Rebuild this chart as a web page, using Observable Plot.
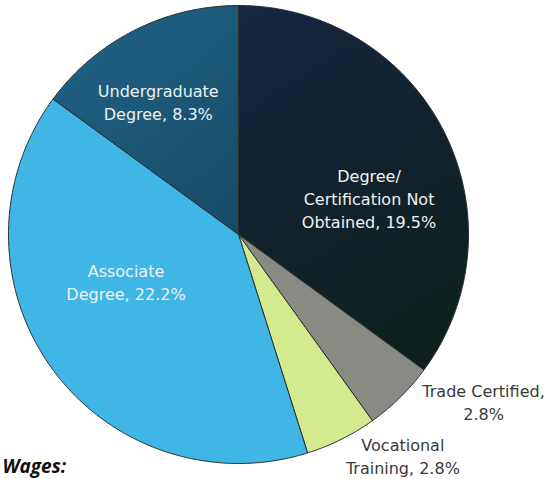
<!DOCTYPE html>
<html>
<head>
<meta charset="utf-8">
<script src="https://cdn.jsdelivr.net/npm/d3@7"></script>
<script src="https://cdn.jsdelivr.net/npm/@observablehq/plot@0.6"></script>
<style>
  html, body { margin: 0; padding: 0; background: #ffffff; }
  #chart svg { display: block; }
</style>
</head>
<body>
<div id="chart"></div>
<script>
// ---- data ----
const categories = [
  "Degree/Certification Not Obtained",
  "Trade Certified",
  "Vocational Training",
  "Associate Degree",
  "Undergraduate Degree"
];
const values = [19.5, 2.8, 2.8, 22.2, 8.3];
const labels = [
  "Degree/\nCertification Not\nObtained, 19.5%",
  "Trade Certified,\n2.8%",
  "Vocational\nTraining, 2.8%",
  "Associate\nDegree, 22.2%",
  "Undergraduate\nDegree, 8.3%"
];
const colors = ["url(#gDark)", "#8a8a85", "#d3eb8e", "#40b6e6", "url(#gTeal)"];
// label layout: angular shift from slice middle (deg) and radius fraction
const labelShift = [11, -11, -10, 13, -4];
const labelRadius = [0.59, 1.29, 1.20, 0.53, 0.68];
const labelInside = [true, false, false, true, true];

// ---- geometry from data ----
const pie = d3.pie().sort(null).value(d => d.value).startAngle(0);
const rows = categories.map((c, i) => ({name: c, value: values[i], label: labels[i], i}));
const arcs = pie(rows);

const slicePts = [];
for (const a of arcs) {
  slicePts.push({name: a.data.name, x: 0, y: 0});
  const n = Math.max(2, Math.ceil((a.endAngle - a.startAngle) / 0.01));
  for (let k = 0; k <= n; k++) {
    const t = a.startAngle + (a.endAngle - a.startAngle) * k / n;
    slicePts.push({name: a.data.name, x: Math.sin(t), y: Math.cos(t)});
  }
  slicePts.push({name: a.data.name, x: 0, y: 0});
}

const labelRows = arcs.map(a => {
  const i = a.data.i;
  const mid = (a.startAngle + a.endAngle) / 2 + labelShift[i] * Math.PI / 180;
  return {
    label: a.data.label,
    x: labelRadius[i] * Math.sin(mid),
    y: labelRadius[i] * Math.cos(mid),
    inside: labelInside[i]
  };
});

const chart = Plot.plot({
  width: 551,
  height: 479,
  margin: 0,
  x: {domain: [-1, 1], range: [8, 468], axis: null},
  y: {domain: [-1, 1], range: [463, 5], axis: null},
  color: {domain: categories, range: colors},
  style: {background: "#ffffff", overflow: "hidden"},
  marks: [
    Plot.line(slicePts, {
      x: "x", y: "y", z: "name", fill: "name",
      stroke: "#2b2f2f", strokeWidth: 1, strokeLinejoin: "round", curve: "linear"
    }),
    Plot.text(labelRows.filter(d => d.inside), {
      x: "x", y: "y", text: "label",
      fill: "#eef2f3", fontSize: 16, lineHeight: 1.45,
      fontFamily: "DejaVu Sans", textAnchor: "middle", lineAnchor: "middle"
    }),
    Plot.text(labelRows.filter(d => !d.inside), {
      x: "x", y: "y", text: "label",
      fill: "#3a3a3a", fontSize: 16, lineHeight: 1.45,
      fontFamily: "DejaVu Sans", textAnchor: "middle", lineAnchor: "middle"
    }),
    Plot.text(["Wages:"], {
      frameAnchor: "bottom-left", dx: 2, dy: -7,
      fill: "#111", fontSize: 19, fontWeight: "bold", fontStyle: "italic",
      fontFamily: "Open Sans", textAnchor: "start", lineAnchor: "bottom"
    })
  ]
});

// gradients for the two darker slices
const ns = "http://www.w3.org/2000/svg";
const defs = document.createElementNS(ns, "defs");
defs.innerHTML = `
  <linearGradient id="gDark" gradientUnits="userSpaceOnUse" x1="240" y1="20" x2="440" y2="340">
    <stop offset="0" stop-color="#142640"/>
    <stop offset="0.55" stop-color="#11222b"/>
    <stop offset="1" stop-color="#0d201d"/>
  </linearGradient>
  <linearGradient id="gTeal" gradientUnits="userSpaceOnUse" x1="60" y1="20" x2="230" y2="220">
    <stop offset="0" stop-color="#1f6283"/>
    <stop offset="1" stop-color="#184c69"/>
  </linearGradient>`;
chart.insertBefore(defs, chart.firstChild);
document.getElementById("chart").appendChild(chart);
</script>
</body>
</html>
